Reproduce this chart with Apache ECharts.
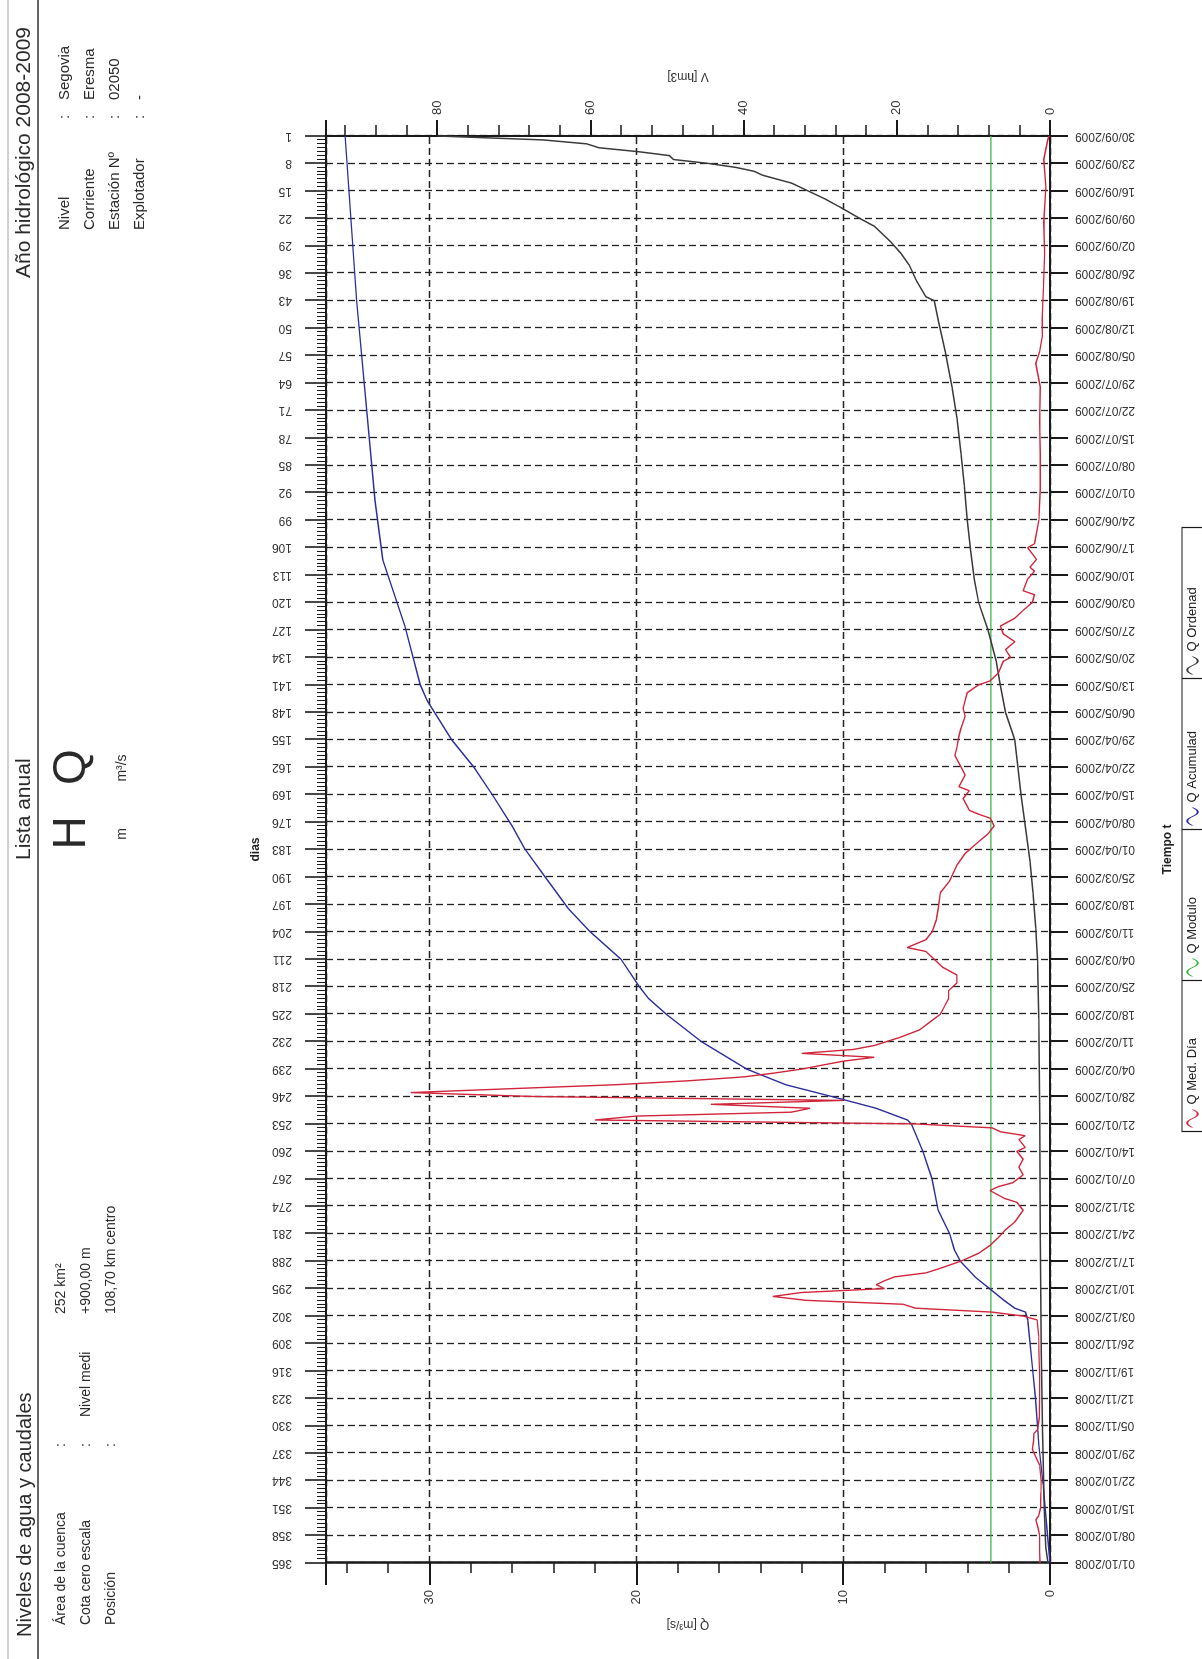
<!DOCTYPE html>
<html><head><meta charset="utf-8">
<script src="https://cdn.jsdelivr.net/npm/echarts@6.0.0/dist/echarts.min.js"></script>
<style>
html,body{margin:0;padding:0;width:1202px;height:1659px;overflow:hidden;background:#fff;}
#wrap{position:absolute;left:0;top:0;width:1659px;height:1202px;transform-origin:0 0;transform:translateY(1659px) rotate(-90deg);}
#chart{width:1659px;height:1202px;}
</style></head><body>
<div id="wrap"><div id="chart"></div></div>
<script>
// ---- data ----
const dateLabels = ['01/10/2008','08/10/2008','15/10/2008','22/10/2008','29/10/2008','05/11/2008','12/11/2008','19/11/2008','26/11/2008','03/12/2008','10/12/2008','17/12/2008','24/12/2008','31/12/2008','07/01/2009','14/01/2009','21/01/2009','28/01/2009','04/02/2009','11/02/2009','18/02/2009','25/02/2009','04/03/2009','11/03/2009','18/03/2009','25/03/2009','01/04/2009','08/04/2009','15/04/2009','22/04/2009','29/04/2009','06/05/2009','13/05/2009','20/05/2009','27/05/2009','03/06/2009','10/06/2009','17/06/2009','24/06/2009','01/07/2009','08/07/2009','15/07/2009','22/07/2009','29/07/2009','05/08/2009','12/08/2009','19/08/2009','26/08/2009','02/09/2009','09/09/2009','16/09/2009','23/09/2009','30/09/2009'];
const legendNames = ['Q Med. Día','Q Modulo','Q Acumulad','Q Ordenad'];
// daily mean flow [day of hydrological year (0 = 01/10/2008), Q m3/s]
const qMedDia = [[0,0.48],[3,0.5],[7,0.5],[9,0.58],[11,0.68],[12,0.55],[14,0.46],[18,0.44],[21,0.43],[25,0.5],[27,0.68],[29,0.85],[31,0.8],[33,0.78],[34,0.6],[37,0.52],[42,0.5],[48,0.5],[54,0.54],[58,0.55],[62,0.62],[63,1.3],[64,2.8],[65,6.5],[66,7.1],[67,11.8],[68,13.4],[69,12.0],[70,8.0],[71,8.4],[72,8.0],[73,7.5],[74,6.0],[75,5.4],[77,4.3],[79,3.45],[81,2.9],[83,2.5],[85,2.15],[87,1.7],[90,1.3],[92,1.6],[93,2.2],[95,2.9],[96,2.5],[97,1.8],[99,1.3],[101,1.5],[103,1.3],[105,1.6],[106,1.2],[108,1.5],[109,1.2],[110,2.4],[111,2.8],[112,6.5],[113,22.0],[114,20.0],[115,12.5],[116,11.6],[117,16.4],[118,10.0],[119,25.0],[120,30.9],[121,26.0],[122,21.0],[123,17.5],[124,14.8],[125,13.3],[126,12.0],[127,11.0],[128,10.0],[129,8.5],[130,12.0],[131,9.5],[132,8.5],[134,7.3],[136,6.3],[138,5.8],[140,5.3],[142,5.1],[144,4.9],[146,4.9],[148,4.5],[150,4.5],[152,5.2],[154,5.6],[156,6.0],[157,6.9],[159,6.0],[161,5.7],[164,5.5],[167,5.4],[171,5.3],[174,4.85],[178,4.5],[181,4.1],[184,3.45],[186,3.0],[188,2.7],[190,2.9],[191,3.45],[192,3.9],[195,4.2],[197,3.9],[198,4.4],[201,4.1],[203,4.3],[206,4.6],[208,4.5],[211,4.4],[213,4.3],[216,4.1],[218,4.2],[220,4.1],[222,4.0],[224,3.45],[225,2.9],[227,2.5],[230,2.26],[231,1.9],[233,2.15],[235,1.7],[237,2.26],[239,2.4],[241,1.7],[243,1.3],[245,0.86],[247,0.75],[248,1.3],[251,1.08],[253,0.75],[254,0.97],[256,0.65],[259,1.08],[260,0.75],[266,0.54],[274,0.47],[283,0.47],[291,0.5],[300,0.47],[306,0.69],[309,0.5],[313,0.37],[317,0.38],[325,0.32],[334,0.26],[342,0.3],[351,0.2],[358,0.3],[363,0.11],[364,0.05]];
// module (mean annual flow), m3/s
const qModulo = 2.86;
// accumulated volume [day, V hm3]
const vAcumulado = [[0,0],[10,0.45],[20,0.9],[30,1.45],[42,1.9],[50,2.3],[62,2.9],[64,3.2],[65,4.6],[67,6.0],[70,7.9],[73,9.8],[77,11.7],[80,12.5],[84,13.1],[90,14.6],[98,15.4],[105,16.6],[112,18.1],[113,18.6],[116,22.7],[119,28.5],[122,34.5],[126,39.6],[133,45.5],[140,50.1],[144,52.4],[147,53.6],[154,56.0],[161,60.0],[167,62.9],[175,65.9],[182,68.5],[188,70.2],[196,72.8],[203,75.2],[210,78.1],[220,81.3],[224,82.2],[239,84.2],[256,87.1],[271,88.1],[322,90.5],[364,92.0]];
// ordered flow (duration curve) [rank-1, Q m3/s]
const qOrdenado = [[0,29.6],[1,24.5],[2,22.4],[3,21.8],[4,19.9],[5,18.4],[6,18.2],[7,16.5],[8,15.2],[9,14.3],[10,13.9],[12,12.5],[13,12.1],[14,11.7],[16,10.9],[18,10.2],[21,9.2],[23,8.5],[27,7.7],[30,7.2],[33,6.8],[37,6.45],[41,6.0],[42,5.6],[47,5.4],[55,5.06],[64,4.74],[72,4.5],[81,4.3],[89,4.14],[98,4.0],[106,3.83],[113,3.66],[119,3.45],[126,3.0],[134,2.6],[140,2.4],[147,2.15],[154,1.7],[159,1.6],[168,1.4],[176,1.2],[185,0.97],[193,0.82],[202,0.69],[210,0.6],[225,0.54],[250,0.5],[280,0.47],[310,0.42],[330,0.36],[350,0.28],[360,0.2],[364,0.1]];

// ---- chart (drawn in the original landscape orientation, page is rotated by CSS) ----
const FONT = '"Liberation Sans", Arial, sans-serif';
const INK = '#1a1a1a';
const WAVE = 'path://M0,8 C3,1 6,1 9,8 C12,15 15,15 18,8 L18,10 C15,17 12,17 9,10 C6,3 3,3 0,10 Z';
const LEG_X = 527.5, LEG_CELL = 151, LEG_TOP = 1182;
const chart = echarts.init(document.getElementById('chart'), null, {renderer:'canvas'});

function txt(x, y, s, size, align, valign, extra) {
  return Object.assign({type:'text', x:x, y:y, silent:true,
    style:{text:s, font: size + 'px ' + FONT, fill:'#2a2a2a', textAlign:align||'left', textVerticalAlign:valign||'middle'}}, extra||{});
}
function vline(x, y1, y2) {
  return {type:'line', silent:true, shape:{x1:x, y1:y1, x2:x, y2:y2}, style:{stroke:INK, lineWidth:1.2}};
}

const option = {
  animation:false,
  backgroundColor:'#ffffff',
  textStyle:{fontFamily:FONT},
  grid:{left:96, right:136, top:326, bottom:152, containLabel:false},
  legend: legendNames.map(function(n, i){
    return {data:[n], left: LEG_X + 4 + LEG_CELL * i, top: LEG_TOP + 4, orient:'horizontal',
      icon:WAVE, padding:0, itemWidth:18, itemHeight:14, selectedMode:true,
      textStyle:{fontSize:13, color:'#222', fontFamily:FONT}};
  }),
  xAxis:[
    { // calendar time
      type:'value', position:'bottom', min:0, max:364, interval:7,
      axisLine:{show:true, onZero:false, lineStyle:{color:INK, width:2}},
      axisTick:{show:true, length:18, lineStyle:{color:INK, width:2}},
      axisLabel:{rotate:90, margin:25, fontSize:12, color:'#333', fontFamily:FONT,
        formatter:function(v){ return dateLabels[Math.round(v/7)] || ''; }},
      splitLine:{show:true, lineStyle:{color:'#222', type:[7,4], width:1.3}},
      name:'Tiempo t', nameLocation:'middle', nameGap:112,
      nameTextStyle:{fontSize:12, fontWeight:'bold', color:'#222', fontFamily:FONT}
    },
    { // days (duration curve)
      type:'value', position:'top', inverse:true, min:0, max:364, interval:7,
      axisLine:{show:true, onZero:false, lineStyle:{color:INK, width:2}},
      axisTick:{show:true, length:21, lineStyle:{color:INK, width:1.6}},
      minorTick:{show:true, splitNumber:7, length:9, lineStyle:{color:INK, width:1}},
      axisLabel:{rotate:-90, margin:34, fontSize:12, color:'#333', fontFamily:FONT,
        formatter:function(v){ return String(v+1); }},
      splitLine:{show:false},
      name:'dias', nameLocation:'middle', nameGap:64,
      nameTextStyle:{fontSize:12, fontWeight:'bold', color:'#222', fontFamily:FONT}
    }
  ],
  yAxis:[
    { // Q minor ticks
      type:'value', position:'left', min:0, max:35, interval:2,
      axisLine:{show:false}, axisTick:{show:true, length:10, lineStyle:{color:INK, width:1.5}},
      axisLabel:{show:false}, splitLine:{show:false}
    },
    { // Q
      type:'value', position:'left', min:0, max:35, interval:10,
      axisLine:{show:true, onZero:false, lineStyle:{color:INK, width:2.5}},
      axisTick:{show:true, length:22, lineStyle:{color:INK, width:2}},
      axisLabel:{margin:27, fontSize:13, color:'#333', fontFamily:FONT,
        formatter:function(v){ return v % 10 === 0 ? String(v) : ''; }},
      splitLine:{show:true, lineStyle:{color:'#222', type:[7,4], width:1.3}},
      name:'Q [m³/s]', nameLocation:'middle', nameRotate:90, nameGap:55,
      nameTextStyle:{fontSize:12, color:'#333', fontFamily:FONT}
    },
    { // V minor ticks
      type:'value', position:'right', min:0, max:94.5, interval:4,
      axisLine:{show:false}, axisTick:{show:true, length:11, lineStyle:{color:INK, width:1.5}},
      axisLabel:{show:false}, splitLine:{show:false}
    },
    { // V
      type:'value', position:'right', min:0, max:94.5, interval:20,
      axisLine:{show:true, onZero:false, lineStyle:{color:INK, width:2}},
      axisTick:{show:true, length:16, lineStyle:{color:INK, width:2}},
      axisLabel:{margin:21, fontSize:13, color:'#333', fontFamily:FONT,
        formatter:function(v){ return v % 20 === 0 ? String(v) : ''; }},
      splitLine:{show:false},
      name:'V [hm3]', nameLocation:'middle', nameRotate:90, nameGap:54,
      nameTextStyle:{fontSize:12, color:'#333', fontFamily:FONT}
    }
  ],
  series:[
    {name:'Q Modulo', type:'line', xAxisIndex:0, yAxisIndex:1, symbol:'none',
      data:[[0, qModulo],[364, qModulo]],
      lineStyle:{color:'#3cb043', width:1.4}, itemStyle:{color:'#3cb043'}, z:3},
    {name:'Q Acumulad', type:'line', xAxisIndex:0, yAxisIndex:3, symbol:'none',
      data:vAcumulado, lineStyle:{color:'#2d2d9c', width:1.4}, itemStyle:{color:'#2d2d9c'}, z:4},
    {name:'Q Ordenad', type:'line', xAxisIndex:1, yAxisIndex:1, symbol:'none',
      data:qOrdenado, lineStyle:{color:'#3a3a3a', width:1.5}, itemStyle:{color:'#3a3a3a'}, z:5},
    {name:'Q Med. Día', type:'line', xAxisIndex:0, yAxisIndex:1, symbol:'none',
      data:qMedDia, lineStyle:{color:'#d0263c', width:1.4}, itemStyle:{color:'#d0263c'}, z:6}
  ],
  graphic:[
    {type:'line', silent:true, shape:{x1:0,y1:8,x2:1659,y2:8}, style:{stroke:'#d0d0d0', lineWidth:2}},
    {type:'line', silent:true, shape:{x1:0,y1:38,x2:1659,y2:38}, style:{stroke:'#333', lineWidth:1.5}},
    {type:'rect', silent:true, shape:{x:LEG_X, y:LEG_TOP, width:LEG_CELL*4, height:40},
      style:{fill:'none', stroke:INK, lineWidth:1.2}},
    vline(LEG_X + LEG_CELL, LEG_TOP, 1202), vline(LEG_X + LEG_CELL*2, LEG_TOP, 1202), vline(LEG_X + LEG_CELL*3, LEG_TOP, 1202),
    txt(22, 35, 'Niveles de agua y caudales', 20, 'left', 'bottom'),
    txt(34, 61, 'Área de la cuenca', 14),
    txt(34, 86, 'Cota cero escala', 14),
    txt(34, 111, 'Posición', 14),
    txt(212, 61, ':', 14), txt(212, 86, ':', 14), txt(212, 111, ':', 14),
    txt(242, 86, 'Nivel medi', 14),
    txt(345, 61, '252 km²', 14),
    txt(345, 86, '+900,00 m', 14),
    txt(345, 111, '108,70 km centro', 14),
    txt(799, 35, 'Lista anual', 21, 'left', 'bottom'),
    txt(826, 72, 'H', 46, 'center', 'middle'),
    txt(892, 72, 'Q', 46, 'center', 'middle'),
    txt(825, 122, 'm', 14, 'center', 'middle'),
    txt(891, 122, 'm³/s', 14, 'center', 'middle'),
    txt(1632, 35, 'Año hidrológico 2008-2009', 21, 'right', 'bottom'),
    txt(1429, 65, 'Nivel', 15), txt(1429, 90, 'Corriente', 15),
    txt(1429, 115, 'Estación Nº', 15), txt(1429, 140, 'Explotador', 15),
    txt(1540, 65, ':', 15), txt(1540, 90, ':', 15), txt(1540, 115, ':', 15), txt(1540, 140, ':', 15),
    txt(1559, 65, 'Segovia', 15), txt(1559, 90, 'Eresma', 15),
    txt(1559, 115, '02050', 15), txt(1559, 140, '-', 15)
  ]
};
chart.setOption(option);
</script>
</body></html>
